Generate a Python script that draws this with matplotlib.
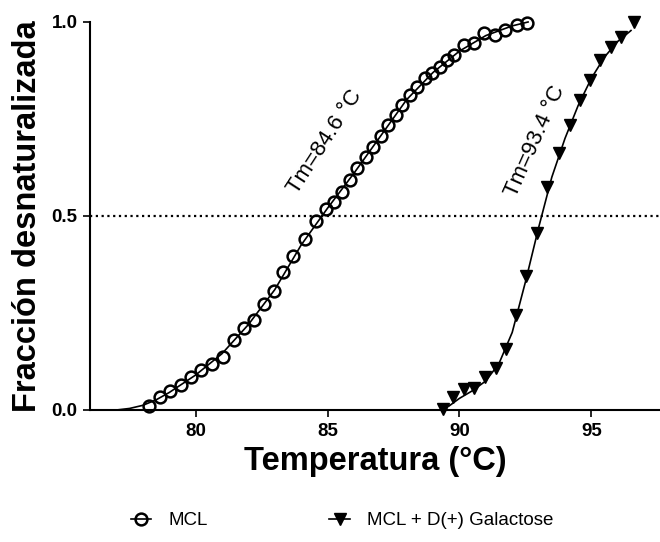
import matplotlib
matplotlib.use('Agg')
import matplotlib.pyplot as plt
from matplotlib.lines import Line2D

plt.rcParams['font.family'] = ['Liberation Sans', 'DejaVu Sans']

# MCL (open circles)
mcl_temp = [78.23, 78.65, 79.05, 79.43, 79.81, 80.19, 80.63, 81.05, 81.45, 81.83,
            82.21, 82.59, 82.97, 83.32, 83.70, 84.13, 84.58, 84.95, 85.24, 85.56,
            85.85, 86.12, 86.44, 86.73, 87.01, 87.30, 87.58, 87.83, 88.12, 88.40,
            88.71, 88.97, 89.25, 89.53, 89.80, 90.16, 90.54, 90.92, 91.36, 91.74,
            92.19, 92.56]
mcl_frac = [0.010, 0.034, 0.049, 0.064, 0.084, 0.103, 0.118, 0.137, 0.180, 0.211,
            0.232, 0.273, 0.307, 0.356, 0.397, 0.440, 0.487, 0.517, 0.537, 0.563,
            0.593, 0.623, 0.653, 0.679, 0.705, 0.735, 0.760, 0.786, 0.812, 0.833,
            0.855, 0.868, 0.885, 0.902, 0.915, 0.941, 0.945, 0.971, 0.966, 0.979,
            0.992, 0.997]

# MCL + D(+) Galactose (filled down triangles)
gal_temp = [89.38, 89.76, 90.16, 90.54, 90.95, 91.38, 91.78, 92.16, 92.54, 92.94,
            93.32, 93.76, 94.18, 94.56, 94.96, 95.34, 95.75, 96.14, 96.60]
gal_frac = [0.002, 0.033, 0.053, 0.056, 0.084, 0.107, 0.156, 0.245, 0.345, 0.455,
            0.576, 0.662, 0.735, 0.799, 0.851, 0.902, 0.936, 0.961, 1.000]

# fitted sigmoid lines
mcl_fit_temp = [77.0, 77.5, 78.0, 78.5, 79.0, 80.0, 81.0, 82.0, 83.0, 84.0, 85.0,
                86.0, 87.0, 88.0, 89.0, 90.0, 91.0, 92.0, 92.6]
mcl_fit_frac = [0.0, 0.004, 0.012, 0.026, 0.045, 0.090, 0.145, 0.220, 0.310, 0.425,
                0.520, 0.610, 0.705, 0.800, 0.870, 0.925, 0.965, 0.990, 1.0]
gal_fit_temp = [89.6, 90.0, 90.5, 91.0, 91.5, 92.0, 92.5, 93.0, 93.5, 94.0,
                94.5, 95.0, 95.5, 96.0, 96.5]
gal_fit_frac = [0.010, 0.030, 0.050, 0.075, 0.120, 0.200, 0.330, 0.470, 0.600, 0.700,
                0.785, 0.855, 0.910, 0.950, 0.978]

x_ticks = [80, 85, 90, 95]
y_ticks = [0.0, 0.5, 1.0]
y_ticklabels = ["0.0", "0.5", "1.0"]

fig = plt.figure(figsize=(6.6, 5.42), dpi=100)
ax = fig.add_axes([90/660, 1 - 410/542, 570/660, (410 - 22)/542])

ax.axhline(0.5, color='black', linestyle=':', linewidth=1.6, dashes=(1, 1.6))

ax.plot(mcl_fit_temp, mcl_fit_frac, color='black', linewidth=1.2, clip_on=False)
ax.plot(gal_fit_temp, gal_fit_frac, color='black', linewidth=1.2, clip_on=False)
ax.plot(mcl_temp, mcl_frac, linestyle='none', marker='o', markersize=8.5,
        markerfacecolor='none', markeredgecolor='black', markeredgewidth=1.8,
        clip_on=False)
ax.plot(gal_temp, gal_frac, linestyle='none', marker='v', markersize=9,
        color='black', clip_on=False)

ax.text(84.92, 0.691, "Tm=84.6 °C", rotation=57, rotation_mode='anchor',
        ha='center', va='center', fontsize=16)
ax.text(92.88, 0.693, "Tm=93.4 °C", rotation=66, rotation_mode='anchor',
        ha='center', va='center', fontsize=16)

ax.set_xlim(76, 97.6)
ax.set_ylim(0, 1)
ax.set_xticks(x_ticks)
ax.set_yticks(y_ticks)
ax.set_yticklabels(y_ticklabels)

ax.spines[['top', 'right']].set_visible(False)
for s in ['left', 'bottom']:
    ax.spines[s].set_linewidth(1.5)
ax.tick_params(width=1.2, length=5, labelsize=13.5, pad=4)
for lab in ax.get_xticklabels() + ax.get_yticklabels():
    lab.set_fontweight('bold')

ax.set_xlabel("Temperatura (°C)", fontsize=23.5, fontweight='bold', labelpad=5)
ax.set_ylabel("Fracción desnaturalizada", fontsize=23.5, fontweight='bold', labelpad=6)

handles = [
    Line2D([0], [0], color='black', linewidth=1.2, marker='o', markersize=8.5,
           markerfacecolor='none', markeredgewidth=1.8),
    Line2D([0], [0], color='black', linewidth=1.2, marker='v', markersize=9),
]
fig.legend(handles, ["MCL", "MCL + D(+) Galactose"], loc='center',
           bbox_to_anchor=(0.518, 0.039), ncol=2, frameon=False, fontsize=13.5,
           handlelength=1.1, handletextpad=0.9, columnspacing=6.5)

plt.savefig("out.png", dpi=100)
plt.close()
